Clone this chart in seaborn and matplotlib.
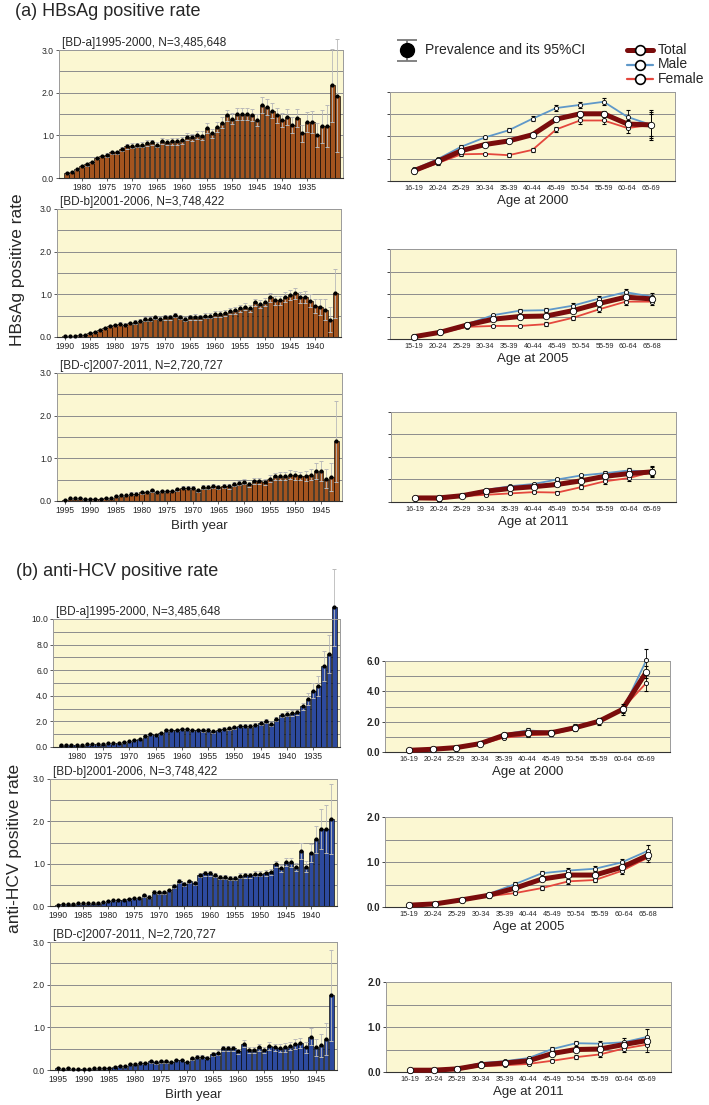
import numpy as np
import pandas as pd
import matplotlib
matplotlib.use('Agg')
import matplotlib.pyplot as plt
import seaborn as sns

sns.set_style('ticks')
plt.rcParams['font.family'] = ['Liberation Sans', 'DejaVu Sans']

# ---------------- datos: barras por año de nacimiento ----------------
# HBsAg
hbs_a_years = list(range(1983, 1928, -1))
hbs_a_ticks = [1980, 1975, 1970, 1965, 1960, 1955, 1950, 1945, 1940, 1935]
hbs_a_rate = [0.12, 0.15, 0.20, 0.28, 0.32, 0.38, 0.47, 0.52, 0.54, 0.60, 0.60, 0.68, 0.74, 0.76,
              0.78, 0.78, 0.82, 0.84, 0.78, 0.86, 0.84, 0.86, 0.86, 0.88, 0.97, 0.95, 1.01, 0.99,
              1.17, 1.05, 1.19, 1.30, 1.47, 1.39, 1.50, 1.49, 1.50, 1.48, 1.35, 1.71, 1.66, 1.58,
              1.47, 1.36, 1.43, 1.24, 1.40, 1.05, 1.31, 1.32, 1.01, 1.21, 1.22, 2.17, 1.93]
hbs_a_ci = [0.02, 0.02, 0.02, 0.02, 0.03, 0.03, 0.03, 0.03, 0.04, 0.04, 0.04, 0.05, 0.05, 0.05,
            0.05, 0.06, 0.06, 0.06, 0.06, 0.07, 0.07, 0.08, 0.08, 0.08, 0.09, 0.09, 0.10, 0.10,
            0.11, 0.11, 0.12, 0.12, 0.13, 0.13, 0.14, 0.14, 0.14, 0.14, 0.14, 0.18, 0.18, 0.18,
            0.17, 0.17, 0.19, 0.19, 0.21, 0.20, 0.24, 0.26, 0.28, 0.38, 0.50, 0.85, 1.32]

hbs_b_years = list(range(1990, 1935, -1))
hbs_b_ticks = [1990, 1985, 1980, 1975, 1970, 1965, 1960, 1955, 1950, 1945, 1940]
hbs_b_rate = [0.03, 0.02, 0.02, 0.04, 0.05, 0.09, 0.12, 0.16, 0.21, 0.26, 0.28, 0.31, 0.29, 0.33,
              0.35, 0.38, 0.42, 0.42, 0.46, 0.43, 0.46, 0.46, 0.51, 0.47, 0.43, 0.46, 0.47, 0.46,
              0.50, 0.50, 0.55, 0.53, 0.57, 0.60, 0.63, 0.67, 0.71, 0.67, 0.81, 0.77, 0.82, 0.93,
              0.86, 0.86, 0.94, 0.98, 1.02, 0.93, 0.94, 0.85, 0.73, 0.71, 0.64, 0.41, 1.02]
hbs_b_ci = [0.01, 0.01, 0.01, 0.01, 0.02, 0.02, 0.02, 0.02, 0.03, 0.03, 0.03, 0.03, 0.03, 0.03,
            0.04, 0.04, 0.04, 0.04, 0.04, 0.04, 0.05, 0.05, 0.05, 0.05, 0.05, 0.05, 0.06, 0.06,
            0.06, 0.06, 0.07, 0.07, 0.07, 0.07, 0.08, 0.08, 0.08, 0.08, 0.09, 0.09, 0.10, 0.10,
            0.10, 0.11, 0.11, 0.12, 0.14, 0.13, 0.14, 0.15, 0.17, 0.19, 0.25, 0.30, 0.58]

hbs_c_years = list(range(1995, 1941, -1))
hbs_c_ticks = [1995, 1990, 1985, 1980, 1975, 1970, 1965, 1960, 1955, 1950, 1945]
hbs_c_rate = [0.03, 0.06, 0.06, 0.07, 0.05, 0.05, 0.05, 0.05, 0.07, 0.06, 0.11, 0.13, 0.13, 0.17,
              0.17, 0.20, 0.21, 0.25, 0.21, 0.23, 0.23, 0.23, 0.27, 0.31, 0.31, 0.31, 0.25, 0.33,
              0.33, 0.36, 0.33, 0.35, 0.34, 0.39, 0.42, 0.45, 0.39, 0.47, 0.47, 0.44, 0.52, 0.58,
              0.58, 0.58, 0.62, 0.60, 0.59, 0.59, 0.62, 0.70, 0.70, 0.52, 0.56, 1.40]
hbs_c_ci = [0.02, 0.02, 0.02, 0.02, 0.02, 0.02, 0.02, 0.02, 0.02, 0.02, 0.02, 0.02, 0.02, 0.03,
            0.03, 0.03, 0.03, 0.03, 0.03, 0.03, 0.03, 0.03, 0.04, 0.04, 0.04, 0.04, 0.04, 0.04,
            0.04, 0.05, 0.05, 0.05, 0.05, 0.05, 0.05, 0.06, 0.06, 0.06, 0.07, 0.07, 0.08, 0.08,
            0.09, 0.09, 0.10, 0.10, 0.10, 0.11, 0.12, 0.19, 0.24, 0.22, 0.33, 0.95]

# anti-HCV
hcv_a_years = list(range(1983, 1930, -1))
hcv_a_ticks = [1980, 1975, 1970, 1965, 1960, 1955, 1950, 1945, 1940, 1935]
hcv_a_rate = [0.18, 0.18, 0.18, 0.18, 0.18, 0.20, 0.22, 0.22, 0.25, 0.28, 0.30, 0.33, 0.38, 0.45,
              0.55, 0.65, 0.83, 1.00, 0.90, 1.12, 1.30, 1.35, 1.35, 1.43, 1.38, 1.35, 1.35, 1.30,
              1.35, 1.22, 1.35, 1.43, 1.45, 1.53, 1.67, 1.67, 1.67, 1.75, 1.88, 2.00, 1.82, 2.21,
              2.50, 2.60, 2.66, 2.70, 3.18, 3.75, 4.40, 4.74, 6.30, 7.27, 10.9]
hcv_a_ci = [0.03, 0.03, 0.03, 0.03, 0.03, 0.03, 0.03, 0.03, 0.04, 0.04, 0.04, 0.04, 0.05, 0.05,
            0.05, 0.06, 0.07, 0.07, 0.07, 0.08, 0.08, 0.08, 0.08, 0.09, 0.09, 0.09, 0.09, 0.09,
            0.10, 0.10, 0.10, 0.10, 0.10, 0.11, 0.12, 0.12, 0.12, 0.13, 0.14, 0.15, 0.15, 0.17,
            0.19, 0.20, 0.21, 0.22, 0.28, 0.45, 0.60, 0.78, 1.17, 1.50, 3.00]

hcv_b_years = list(range(1990, 1935, -1))
hcv_b_ticks = [1990, 1985, 1980, 1975, 1970, 1965, 1960, 1955, 1950, 1945, 1940]
hcv_b_rate = [0.02, 0.04, 0.05, 0.05, 0.06, 0.06, 0.06, 0.07, 0.08, 0.09, 0.12, 0.13, 0.14, 0.15,
              0.17, 0.18, 0.20, 0.25, 0.22, 0.34, 0.32, 0.32, 0.38, 0.47, 0.59, 0.52, 0.58, 0.54,
              0.73, 0.77, 0.77, 0.73, 0.69, 0.68, 0.66, 0.66, 0.71, 0.73, 0.73, 0.76, 0.76, 0.79,
              0.81, 0.99, 0.89, 1.04, 1.03, 0.92, 1.29, 0.93, 1.25, 1.58, 1.82, 1.82, 2.05]
hcv_b_ci = [0.01, 0.01, 0.01, 0.01, 0.01, 0.01, 0.01, 0.01, 0.01, 0.01, 0.02, 0.02, 0.02, 0.02,
            0.02, 0.02, 0.02, 0.03, 0.03, 0.03, 0.03, 0.03, 0.03, 0.04, 0.04, 0.04, 0.04, 0.04,
            0.05, 0.05, 0.05, 0.05, 0.05, 0.05, 0.05, 0.05, 0.06, 0.06, 0.06, 0.06, 0.06, 0.07,
            0.07, 0.08, 0.08, 0.09, 0.10, 0.10, 0.19, 0.13, 0.22, 0.32, 0.48, 0.57, 0.83]

hcv_c_years = list(range(1995, 1941, -1))
hcv_c_ticks = [1995, 1990, 1985, 1980, 1975, 1970, 1965, 1960, 1955, 1950, 1945]
hcv_c_rate = [0.05, 0.03, 0.05, 0.02, 0.03, 0.03, 0.03, 0.04, 0.04, 0.05, 0.04, 0.08, 0.09, 0.10,
              0.14, 0.15, 0.17, 0.16, 0.20, 0.18, 0.20, 0.20, 0.19, 0.23, 0.23, 0.19, 0.27, 0.31,
              0.31, 0.29, 0.37, 0.41, 0.51, 0.51, 0.51, 0.44, 0.62, 0.47, 0.48, 0.53, 0.47, 0.56,
              0.53, 0.51, 0.53, 0.56, 0.61, 0.64, 0.53, 0.78, 0.53, 0.58, 0.72, 1.75]
hcv_c_ci = [0.02, 0.01, 0.02, 0.01, 0.01, 0.01, 0.01, 0.01, 0.01, 0.02, 0.02, 0.02, 0.02, 0.02,
            0.02, 0.02, 0.03, 0.03, 0.03, 0.03, 0.03, 0.03, 0.03, 0.03, 0.03, 0.03, 0.04, 0.04,
            0.04, 0.04, 0.05, 0.05, 0.06, 0.06, 0.06, 0.06, 0.08, 0.07, 0.07, 0.08, 0.08, 0.09,
            0.09, 0.09, 0.10, 0.10, 0.11, 0.12, 0.12, 0.20, 0.20, 0.27, 0.38, 1.07]

# ---------------- datos: líneas por grupo de edad ----------------
ages_2000 = ['16-19', '20-24', '25-29', '30-34', '35-39', '40-44', '45-49', '50-54', '55-59', '60-64', '65-69']
ages_2005 = ['15-19', '20-24', '25-29', '30-34', '35-39', '40-44', '45-49', '50-54', '55-59', '60-64', '65-68']
ages_2011 = ['16-19', '20-24', '25-29', '30-34', '35-39', '40-44', '45-49', '50-54', '55-59', '60-64', '65-69']

hbs00_total = [0.23, 0.44, 0.68, 0.82, 0.90, 1.04, 1.39, 1.51, 1.51, 1.28, 1.26]
hbs00_male = [0.26, 0.49, 0.77, 0.98, 1.14, 1.40, 1.64, 1.71, 1.78, 1.44, 1.26]
hbs00_female = [0.21, 0.40, 0.60, 0.61, 0.58, 0.70, 1.16, 1.36, 1.36, 1.19, 1.26]
hbs00_total_ci = [0.02, 0.02, 0.03, 0.03, 0.03, 0.04, 0.05, 0.05, 0.06, 0.10, 0.25]
hbs00_male_ci = [0.03, 0.03, 0.04, 0.04, 0.05, 0.06, 0.07, 0.07, 0.08, 0.15, 0.33]
hbs00_female_ci = [0.03, 0.03, 0.03, 0.03, 0.04, 0.05, 0.06, 0.07, 0.08, 0.12, 0.30]

hbs05_total = [0.05, 0.15, 0.31, 0.44, 0.50, 0.51, 0.63, 0.79, 0.93, 0.89]
hbs05_male = [0.07, 0.16, 0.33, 0.53, 0.63, 0.64, 0.74, 0.90, 1.04, 0.94]
hbs05_female = [0.04, 0.13, 0.27, 0.29, 0.29, 0.33, 0.47, 0.66, 0.83, 0.83]
hbs05_total_ci = [0.01, 0.02, 0.02, 0.02, 0.03, 0.03, 0.03, 0.04, 0.05, 0.06]
hbs05_male_ci = [0.02, 0.02, 0.03, 0.03, 0.03, 0.04, 0.05, 0.06, 0.07, 0.08]
hbs05_female_ci = [0.02, 0.02, 0.03, 0.03, 0.03, 0.04, 0.05, 0.06, 0.07, 0.08]

hbs11_total = [0.09, 0.09, 0.14, 0.24, 0.30, 0.34, 0.39, 0.47, 0.57, 0.63, 0.67]
hbs11_male = [0.09, 0.10, 0.15, 0.27, 0.35, 0.40, 0.50, 0.59, 0.64, 0.70, 0.67]
hbs11_female = [0.07, 0.05, 0.13, 0.16, 0.19, 0.22, 0.21, 0.33, 0.46, 0.53, 0.67]
hbs11_total_ci = [0.01, 0.01, 0.01, 0.02, 0.02, 0.02, 0.02, 0.03, 0.04, 0.04, 0.06]
hbs11_male_ci = [0.02, 0.02, 0.02, 0.02, 0.03, 0.03, 0.04, 0.04, 0.05, 0.06, 0.10]
hbs11_female_ci = [0.02, 0.02, 0.02, 0.02, 0.02, 0.03, 0.03, 0.04, 0.05, 0.06, 0.12]

hcv00_total = [0.11, 0.18, 0.29, 0.55, 1.10, 1.27, 1.27, 1.60, 2.02, 2.81, 5.27]
hcv00_male = [0.07, 0.11, 0.22, 0.55, 1.16, 1.43, 1.32, 1.69, 1.98, 2.75, 6.04]
hcv00_female = [0.11, 0.18, 0.26, 0.50, 0.94, 1.10, 1.16, 1.54, 2.09, 2.86, 4.55]
hcv00_total_ci = [0.03, 0.03, 0.04, 0.05, 0.08, 0.10, 0.10, 0.12, 0.14, 0.20, 0.40]
hcv00_male_ci = [0.04, 0.04, 0.05, 0.07, 0.10, 0.12, 0.12, 0.14, 0.17, 0.30, 0.75]
hcv00_female_ci = [0.04, 0.04, 0.05, 0.07, 0.10, 0.12, 0.12, 0.14, 0.17, 0.30, 0.50]

hcv05_total = [0.04, 0.07, 0.16, 0.26, 0.42, 0.62, 0.71, 0.71, 0.88, 1.15]
hcv05_male = [0.04, 0.07, 0.15, 0.29, 0.51, 0.75, 0.81, 0.85, 0.99, 1.25]
hcv05_female = [0.04, 0.07, 0.14, 0.24, 0.31, 0.42, 0.57, 0.60, 0.80, 1.10]
hcv05_total_ci = [0.01, 0.01, 0.02, 0.02, 0.03, 0.03, 0.04, 0.04, 0.05, 0.07]
hcv05_male_ci = [0.01, 0.01, 0.02, 0.03, 0.04, 0.05, 0.06, 0.06, 0.07, 0.12]
hcv05_female_ci = [0.01, 0.01, 0.02, 0.03, 0.03, 0.04, 0.05, 0.05, 0.07, 0.10]

hcv11_total = [0.04, 0.04, 0.07, 0.16, 0.20, 0.25, 0.41, 0.50, 0.51, 0.61, 0.70]
hcv11_male = [0.03, 0.04, 0.08, 0.20, 0.24, 0.31, 0.51, 0.64, 0.63, 0.66, 0.78]
hcv11_female = [0.03, 0.04, 0.05, 0.13, 0.15, 0.18, 0.25, 0.33, 0.39, 0.52, 0.61]
hcv11_total_ci = [0.01, 0.01, 0.01, 0.02, 0.02, 0.02, 0.03, 0.03, 0.04, 0.05, 0.08]
hcv11_male_ci = [0.01, 0.01, 0.01, 0.02, 0.03, 0.03, 0.05, 0.06, 0.06, 0.09, 0.18]
hcv11_female_ci = [0.01, 0.01, 0.01, 0.02, 0.02, 0.02, 0.03, 0.04, 0.05, 0.07, 0.17]

# colores
MARRON = '#A3541F'
AZUL = '#2D4A9E'
FONDO = '#FBF7D2'
C_TOTAL = '#7A0C0C'
C_MALE = '#5F98C9'
C_FEMALE = '#E4473D'
GRID = '#8c8c8c'

fig = plt.figure(figsize=(7.09, 11.05), dpi=100)


def rect(x0, y0, x1, y1):
    # caja en pixeles -> fracciones de figura
    return [x0 / 709, 1 - y1 / 1105, (x1 - x0) / 709, (y1 - y0) / 1105]


def estilo_ejes(ax):
    ax.set_facecolor(FONDO)
    for s in ['top', 'right', 'left']:
        ax.spines[s].set_color('#9a9a9a')
        ax.spines[s].set_linewidth(0.7)
    ax.spines['bottom'].set_color('#333333')
    ax.spines['bottom'].set_linewidth(0.8)
    ax.set_axisbelow(True)
    ax.grid(axis='y', which='both', color=GRID, linewidth=0.7)
    ax.tick_params(axis='y', which='minor', length=0)


def panel_barras(caja, years, rate, ci, ticks, color, ymax, paso_grid, paso_lbl, titulo, xlabel=None):
    ax = fig.add_axes(rect(*caja))
    df = pd.DataFrame({'year': years, 'rate': rate})
    sns.barplot(data=df, x='year', y='rate', order=years, color=color, saturation=1,
                width=0.9, edgecolor='black', linewidth=0.45, errorbar=None, ax=ax, zorder=2)
    for barra in ax.patches:
        barra.set_clip_on(False)
    pos = np.arange(len(years))
    eb = ax.errorbar(pos, rate, yerr=ci, fmt='none', ecolor='#b9b9b9', elinewidth=0.6,
                     capsize=1.2, capthick=0.7, zorder=3)
    for art in eb.lines[1] + eb.lines[2]:
        art.set_clip_on(False)
    for cap in eb.lines[1]:
        cap.set_color('#555555')
    ax.plot(pos, rate, 'o', ms=2.0, color='black', zorder=4, clip_on=False)

    estilo_ejes(ax)
    ax.set_xlim(-1.5, len(years) + 0.1)
    ax.set_ylim(0, ymax)
    ax.set_yticks(np.arange(0, ymax + 0.001, paso_lbl))
    ax.set_yticklabels([f'{v:.1f}' for v in np.arange(0, ymax + 0.001, paso_lbl)], fontsize=6.2)
    ax.set_yticks(np.arange(0, ymax + 0.001, paso_grid), minor=True)
    ax.set_xticks([years.index(t) for t in ticks])
    ax.set_xticklabels([str(t) for t in ticks], fontsize=6.2)
    ax.tick_params(axis='both', which='major', length=2, width=0.6, pad=1.5, color='#444444')
    ax.set_ylabel('')
    ax.set_xlabel(xlabel if xlabel else '', fontsize=9.5, labelpad=4)
    ax.text(0.01, 1.004, titulo, transform=ax.transAxes, fontsize=8.5, ha='left', va='bottom')
    return ax


def panel_lineas(caja, ages, total, male, female, t_ci, m_ci, f_ci, ymax, paso_grid, paso_lbl,
                 con_etiquetas, xlabel):
    ax = fig.add_axes(rect(*caja))
    n = len(ages)
    xs = np.linspace(0, n - 1, len(total))
    series = [(male, m_ci, C_MALE, 1.3, 3.0),
              (female, f_ci, C_FEMALE, 1.3, 3.0),
              (total, t_ci, C_TOTAL, 3.6, 4.6)]
    for vals, ci, col, lw, ms in series:
        sns.lineplot(x=xs, y=vals, color=col, linewidth=lw, ax=ax, sort=False, zorder=3)
        eb = ax.errorbar(xs, vals, yerr=ci, fmt='none', ecolor='black', elinewidth=0.6,
                         capsize=1.3, capthick=0.8, zorder=4)
        for art in eb.lines[1] + eb.lines[2]:
            art.set_clip_on(False)
    for vals, ci, col, lw, ms in series:
        ax.plot(xs, vals, 'o', ms=ms, mfc='white', mec='black', mew=0.6, zorder=5, clip_on=False)
    for ln in ax.lines:
        ln.set_clip_on(False)

    estilo_ejes(ax)
    ax.set_xlim(-1, n)
    ax.set_ylim(0, ymax)
    ax.set_xticks(range(n))
    ax.set_xticklabels(ages, fontsize=5.2)
    ax.tick_params(axis='x', length=0, pad=3)
    ax.set_yticks(np.arange(0, ymax + 0.001, paso_lbl))
    if con_etiquetas:
        ax.set_yticklabels([f'{v:.1f}' for v in np.arange(0, ymax + 0.001, paso_lbl)],
                           fontsize=7, fontweight='bold')
    else:
        ax.set_yticklabels([])
    ax.set_yticks(np.arange(0, ymax + 0.001, paso_grid), minor=True)
    ax.tick_params(axis='y', which='major', length=2, width=0.6, pad=1.5)
    ax.set_xlabel(xlabel, fontsize=9.5, labelpad=2)
    ax.set_ylabel('')
    return ax


# ---------------- (a) HBsAg ----------------
panel_barras((59, 50, 343, 178), hbs_a_years, hbs_a_rate, hbs_a_ci, hbs_a_ticks, MARRON, 3.0, 0.5, 1.0,
             '[BD-a]1995-2000, N=3,485,648')
panel_barras((57, 209, 341, 337), hbs_b_years, hbs_b_rate, hbs_b_ci, hbs_b_ticks, MARRON, 3.0, 0.5, 1.0,
             '[BD-b]2001-2006, N=3,748,422')
panel_barras((57, 373, 342, 501), hbs_c_years, hbs_c_rate, hbs_c_ci, hbs_c_ticks, MARRON, 3.0, 0.5, 1.0,
             '[BD-c]2007-2011, N=2,720,727', 'Birth year')

panel_lineas((390, 92, 675, 181), ages_2000, hbs00_total, hbs00_male, hbs00_female,
             hbs00_total_ci, hbs00_male_ci, hbs00_female_ci, 2.0, 0.5, 0.5, False, 'Age at 2000')
panel_lineas((390, 249, 676, 339), ages_2005, hbs05_total, hbs05_male, hbs05_female,
             hbs05_total_ci, hbs05_male_ci, hbs05_female_ci, 2.0, 0.5, 0.5, False, 'Age at 2005')
panel_lineas((391, 412, 676, 502), ages_2011, hbs11_total, hbs11_male, hbs11_female,
             hbs11_total_ci, hbs11_male_ci, hbs11_female_ci, 2.0, 0.5, 0.5, False, 'Age at 2011')

# ---------------- (b) anti-HCV ----------------
panel_barras((53, 619, 340, 747), hcv_a_years, hcv_a_rate, hcv_a_ci, hcv_a_ticks, AZUL, 10.0, 1.0, 2.0,
             '[BD-a]1995-2000, N=3,485,648')
panel_barras((50, 779, 337, 906), hcv_b_years, hcv_b_rate, hcv_b_ci, hcv_b_ticks, AZUL, 3.0, 0.5, 1.0,
             '[BD-b]2001-2006, N=3,748,422')
panel_barras((50, 942, 337, 1070), hcv_c_years, hcv_c_rate, hcv_c_ci, hcv_c_ticks, AZUL, 3.0, 0.5, 1.0,
             '[BD-c]2007-2011, N=2,720,727', 'Birth year')

panel_lineas((385, 661, 670, 752), ages_2000, hcv00_total, hcv00_male, hcv00_female,
             hcv00_total_ci, hcv00_male_ci, hcv00_female_ci, 6.0, 1.0, 2.0, True, 'Age at 2000')
panel_lineas((385, 817, 672, 907), ages_2005, hcv05_total, hcv05_male, hcv05_female,
             hcv05_total_ci, hcv05_male_ci, hcv05_female_ci, 2.0, 0.5, 1.0, True, 'Age at 2005')
panel_lineas((386, 982, 671, 1072), ages_2011, hcv11_total, hcv11_male, hcv11_female,
             hcv11_total_ci, hcv11_male_ci, hcv11_female_ci, 2.0, 0.5, 1.0, True, 'Age at 2011')

# ---------------- textos y leyendas ----------------
fig.text(15 / 709, 1 - 12 / 1105, '(a) HBsAg positive rate', fontsize=13, va='center', ha='left')
fig.text(16 / 709, 1 - 572 / 1105, '(b) anti-HCV positive rate', fontsize=13, va='center', ha='left')
fig.text(18 / 709, 1 - 270 / 1105, 'HBsAg positive rate', fontsize=12.5, rotation=90,
         va='center', ha='center')
fig.text(15 / 709, 1 - 848 / 1105, 'anti-HCV positive rate', fontsize=12.5, rotation=90,
         va='center', ha='center')

ov = fig.add_axes([0, 0, 1, 1], zorder=10)
ov.set_xlim(0, 709)
ov.set_ylim(1105, 0)
ov.axis('off')
ov.errorbar([407], [50], yerr=[[10.5], [10.5]], fmt='o', ms=10, color='black', ecolor='#7a7a7a',
            elinewidth=1.3, capsize=7, capthick=1.3)
ov.text(425, 50, 'Prevalence and its 95%CI', fontsize=10, va='center', ha='left')
for i, (lab, col, lw) in enumerate([('Total', C_TOTAL, 3.6), ('Male', C_MALE, 1.6),
                                    ('Female', C_FEMALE, 1.6)]):
    y = 50 + i * 14.5
    ov.plot([627, 653], [y, y], color=col, lw=lw)
    ov.plot([640], [y], 'o', ms=7, mfc='white', mec='black', mew=1.2)
    ov.text(658, y, lab, fontsize=10, va='center', ha='left')

fig.savefig('out.png', dpi=100)
